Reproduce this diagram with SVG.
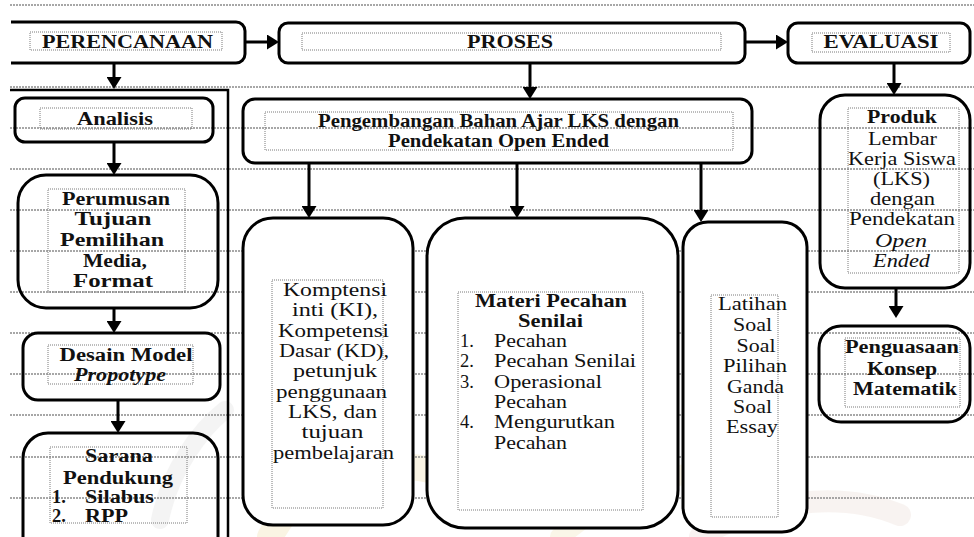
<svg xmlns="http://www.w3.org/2000/svg" width="974" height="537" viewBox="0 0 974 537">
<defs>
<style>
.box{fill:none;stroke:#000;stroke-width:3}
.wbox{fill:#fff;stroke:#000;stroke-width:3}
.tb{fill:none;stroke:#7a7a7a;stroke-width:1;stroke-dasharray:1 1}
.grid line{stroke:#8a8a8a;stroke-width:1.3;stroke-dasharray:2 1}
.t{font-family:"Liberation Serif","Times New Roman",serif;font-size:18.5px;fill:#111}
.b{font-weight:bold}
.i{font-style:italic}
.c{text-anchor:middle}
#connectors line{stroke:#000;stroke-width:3}
.wm{fill:none;stroke-linecap:round}
</style>
<marker id="ah" markerUnits="userSpaceOnUse" markerWidth="14" markerHeight="15" refX="4" refY="7.5" orient="auto">
<path d="M0,0 L12,7.5 L0,15 z" fill="#000"/>
</marker>
<clipPath id="clipL"><rect x="11" y="0" width="963" height="537"/></clipPath>
</defs>
<rect width="974" height="537" fill="#fff"/>

<g id="watermark" opacity="0.55">
<path class="wm" d="M270,537 C300,480 360,455 430,470" stroke="#f6eccd" stroke-width="26"/>
<path class="wm" d="M160,520 C170,470 200,430 225,410" stroke="#ececec" stroke-width="18"/>
<path class="wm" d="M440,250 C480,225 540,225 585,250" stroke="#eadede" stroke-width="14"/>
<path class="wm" d="M700,537 C760,500 840,490 900,515" stroke="#f3e9e6" stroke-width="22"/>
<path class="wm" d="M560,537 C600,500 660,480 700,470" stroke="#f6efd6" stroke-width="20"/>
</g>

<g class="grid">
<line x1="10" y1="5" x2="974" y2="5"/>
<line x1="10" y1="87" x2="974" y2="87"/>
<line x1="10" y1="128" x2="974" y2="128"/>
<line x1="10" y1="169" x2="974" y2="169"/>
<line x1="10" y1="210" x2="974" y2="210"/>
<line x1="10" y1="251" x2="974" y2="251"/>
<line x1="10" y1="292" x2="974" y2="292"/>
<line x1="10" y1="333" x2="974" y2="333"/>
<line x1="10" y1="374" x2="974" y2="374"/>
<line x1="10" y1="415" x2="974" y2="415"/>
<line x1="10" y1="457" x2="974" y2="457"/>
<line x1="10" y1="498" x2="974" y2="498"/>
</g>

<g id="frame">
<path d="M10,90 H228 V537" fill="none" stroke="#000" stroke-width="2.5"/>
</g>

<g id="connectors">
<line x1="245" y1="42" x2="271" y2="42" marker-end="url(#ah)"/>
<line x1="745" y1="42" x2="780" y2="42" marker-end="url(#ah)"/>
<line x1="114" y1="63" x2="114" y2="81" marker-end="url(#ah)"/>
<line x1="530" y1="63" x2="530" y2="91" marker-end="url(#ah)"/>
<line x1="894" y1="63" x2="894" y2="87" marker-end="url(#ah)"/>
<line x1="114" y1="142" x2="114" y2="167" marker-end="url(#ah)"/>
<line x1="114" y1="308" x2="114" y2="325" marker-end="url(#ah)"/>
<line x1="118" y1="400" x2="118" y2="425" marker-end="url(#ah)"/>
<line x1="309" y1="163" x2="309" y2="210" marker-end="url(#ah)"/>
<line x1="517" y1="163" x2="517" y2="210" marker-end="url(#ah)"/>
<line x1="701" y1="163" x2="701" y2="214" marker-end="url(#ah)"/>
<line x1="896" y1="288" x2="896" y2="310" marker-end="url(#ah)"/>
</g>

<g id="perencanaan">
<rect class="box" x="3" y="22" width="242" height="41" rx="9" clip-path="url(#clipL)"/>
<rect class="tb" x="30" y="32" width="192" height="18"/>
<text class="t b c" x="127.5" y="48" textLength="171" lengthAdjust="spacingAndGlyphs">PERENCANAAN</text>
</g>

<g id="proses">
<rect class="box" x="279" y="23" width="466" height="40" rx="9"/>
<rect class="tb" x="302" y="33" width="419" height="17"/>
<text class="t b c" x="510" y="48" textLength="86" lengthAdjust="spacingAndGlyphs">PROSES</text>
</g>

<g id="evaluasi">
<rect class="box" x="788" y="23" width="182" height="40" rx="10"/>
<rect class="tb" x="812" y="33" width="138" height="19"/>
<text class="t b c" x="881" y="48" textLength="115" lengthAdjust="spacingAndGlyphs">EVALUASI</text>
</g>

<g id="analisis">
<rect class="box" x="15" y="98" width="198" height="44" rx="10"/>
<rect class="tb" x="40" y="108" width="152" height="21"/>
<text class="t b c" x="115" y="125" textLength="76" lengthAdjust="spacingAndGlyphs">Analisis</text>
</g>

<g id="perumusan">
<rect class="box" x="18" y="175" width="200" height="133" rx="28"/>
<rect class="tb" x="48" y="189" width="137" height="103"/>
<text class="t b c" x="116" y="205" textLength="108" lengthAdjust="spacingAndGlyphs">Perumusan</text>
<text class="t b c" x="113" y="225" textLength="77" lengthAdjust="spacingAndGlyphs">Tujuan</text>
<text class="t b c" x="112" y="246" textLength="104" lengthAdjust="spacingAndGlyphs">Pemilihan</text>
<text class="t b c" x="115" y="267" textLength="64" lengthAdjust="spacingAndGlyphs">Media,</text>
<text class="t b c" x="113" y="287" textLength="80" lengthAdjust="spacingAndGlyphs">Format</text>
</g>

<g id="desain">
<rect class="box" x="23" y="333" width="197" height="67" rx="15"/>
<rect class="tb" x="48" y="345" width="145" height="39"/>
<text class="t b c" x="126" y="361" textLength="133" lengthAdjust="spacingAndGlyphs">Desain Model</text>
<text class="t b i c" x="120" y="381" textLength="92" lengthAdjust="spacingAndGlyphs">Propotype</text>
</g>

<g id="sarana">
<rect class="box" x="23" y="433" width="195" height="130" rx="25"/>
<rect class="tb" x="50" y="447" width="137" height="76"/>
<text class="t b c" x="119" y="462" textLength="68" lengthAdjust="spacingAndGlyphs">Sarana</text>
<text class="t b c" x="118" y="484" textLength="110" lengthAdjust="spacingAndGlyphs">Pendukung</text>
<text class="t b" x="52" y="503">1.</text>
<text class="t b" x="85" y="503" textLength="69" lengthAdjust="spacingAndGlyphs">Silabus</text>
<text class="t b" x="52" y="522">2.</text>
<text class="t b" x="85" y="522" textLength="43" lengthAdjust="spacingAndGlyphs">RPP</text>
</g>

<g id="pengembangan">
<rect class="box" x="243" y="99" width="509" height="64" rx="12"/>
<rect class="tb" x="265" y="112" width="468" height="38"/>
<text class="t b c" x="498.5" y="127" textLength="361" lengthAdjust="spacingAndGlyphs">Pengembangan Bahan Ajar LKS dengan</text>
<text class="t b c" x="498.5" y="147" textLength="221" lengthAdjust="spacingAndGlyphs">Pendekatan Open Ended</text>
</g>

<g id="komptensi">
<rect class="wbox" x="243" y="218" width="170" height="307" rx="30"/>
<rect class="tb" x="272" y="280" width="111" height="228"/>
<text class="t c" x="335" y="296" textLength="104" lengthAdjust="spacingAndGlyphs">Komptensi</text>
<text class="t c" x="335" y="316" textLength="86" lengthAdjust="spacingAndGlyphs">inti (KI),</text>
<text class="t c" x="333.5" y="337" textLength="111" lengthAdjust="spacingAndGlyphs">Kompetensi</text>
<text class="t c" x="334" y="357" textLength="110" lengthAdjust="spacingAndGlyphs">Dasar (KD),</text>
<text class="t c" x="335" y="377" textLength="84" lengthAdjust="spacingAndGlyphs">petunjuk</text>
<text class="t c" x="331.5" y="398" textLength="111" lengthAdjust="spacingAndGlyphs">penggunaan</text>
<text class="t c" x="332.5" y="418" textLength="89" lengthAdjust="spacingAndGlyphs">LKS, dan</text>
<text class="t c" x="332.5" y="438" textLength="62" lengthAdjust="spacingAndGlyphs">tujuan</text>
<text class="t c" x="333.5" y="459" textLength="121" lengthAdjust="spacingAndGlyphs">pembelajaran</text>
</g>

<g id="materi">
<rect class="wbox" x="427" y="218" width="251" height="310" rx="38"/>
<rect class="tb" x="458" y="292" width="185" height="218"/>
<text class="t b c" x="551" y="307" textLength="152" lengthAdjust="spacingAndGlyphs">Materi Pecahan</text>
<text class="t b c" x="550.5" y="327" textLength="65" lengthAdjust="spacingAndGlyphs">Senilai</text>
<text class="t" x="460" y="347">1.</text>
<text class="t" x="494" y="347" textLength="73" lengthAdjust="spacingAndGlyphs">Pecahan</text>
<text class="t" x="460" y="367">2.</text>
<text class="t" x="494" y="367" textLength="142" lengthAdjust="spacingAndGlyphs">Pecahan Senilai</text>
<text class="t" x="460" y="388">3.</text>
<text class="t" x="494" y="388" textLength="108" lengthAdjust="spacingAndGlyphs">Operasional</text>
<text class="t" x="494" y="408" textLength="73" lengthAdjust="spacingAndGlyphs">Pecahan</text>
<text class="t" x="460" y="428">4.</text>
<text class="t" x="494" y="428" textLength="121" lengthAdjust="spacingAndGlyphs">Mengurutkan</text>
<text class="t" x="494" y="449" textLength="73" lengthAdjust="spacingAndGlyphs">Pecahan</text>
</g>

<g id="latihan">
<rect class="wbox" x="683" y="222" width="124" height="310" rx="25"/>
<rect class="tb" x="711" y="295" width="67" height="222"/>
<text class="t c" x="752.5" y="310" textLength="69" lengthAdjust="spacingAndGlyphs">Latihan</text>
<text class="t c" x="752.5" y="331" textLength="39" lengthAdjust="spacingAndGlyphs">Soal</text>
<text class="t c" x="756" y="352" textLength="39" lengthAdjust="spacingAndGlyphs">Soal</text>
<text class="t c" x="755" y="372" textLength="64" lengthAdjust="spacingAndGlyphs">Pilihan</text>
<text class="t c" x="755.5" y="393" textLength="57" lengthAdjust="spacingAndGlyphs">Ganda</text>
<text class="t c" x="752.5" y="413" textLength="39" lengthAdjust="spacingAndGlyphs">Soal</text>
<text class="t c" x="752" y="433" textLength="52" lengthAdjust="spacingAndGlyphs">Essay</text>
</g>

<g id="produk">
<rect class="box" x="820" y="95" width="150" height="193" rx="25"/>
<rect class="tb" x="848" y="108" width="111" height="165"/>
<text class="t b c" x="902" y="123" textLength="70" lengthAdjust="spacingAndGlyphs">Produk</text>
<text class="t c" x="902.5" y="145" textLength="69" lengthAdjust="spacingAndGlyphs">Lembar</text>
<text class="t c" x="902" y="165" textLength="108" lengthAdjust="spacingAndGlyphs">Kerja Siswa</text>
<text class="t c" x="901.5" y="185" textLength="57" lengthAdjust="spacingAndGlyphs">(LKS)</text>
<text class="t c" x="902.5" y="205" textLength="65" lengthAdjust="spacingAndGlyphs">dengan</text>
<text class="t c" x="902" y="225" textLength="106" lengthAdjust="spacingAndGlyphs">Pendekatan</text>
<text class="t i c" x="901" y="247" textLength="52" lengthAdjust="spacingAndGlyphs">Open</text>
<text class="t i c" x="901.5" y="267" textLength="57" lengthAdjust="spacingAndGlyphs">Ended</text>
</g>

<g id="penguasaan">
<rect class="box" x="819" y="326" width="151" height="96" rx="22"/>
<rect class="tb" x="845" y="338" width="115" height="69"/>
<text class="t b c" x="902" y="353" textLength="114" lengthAdjust="spacingAndGlyphs">Penguasaan</text>
<text class="t b c" x="902" y="375" textLength="70" lengthAdjust="spacingAndGlyphs">Konsep</text>
<text class="t b c" x="905" y="395" textLength="104" lengthAdjust="spacingAndGlyphs">Matematik</text>
</g>
</svg>
